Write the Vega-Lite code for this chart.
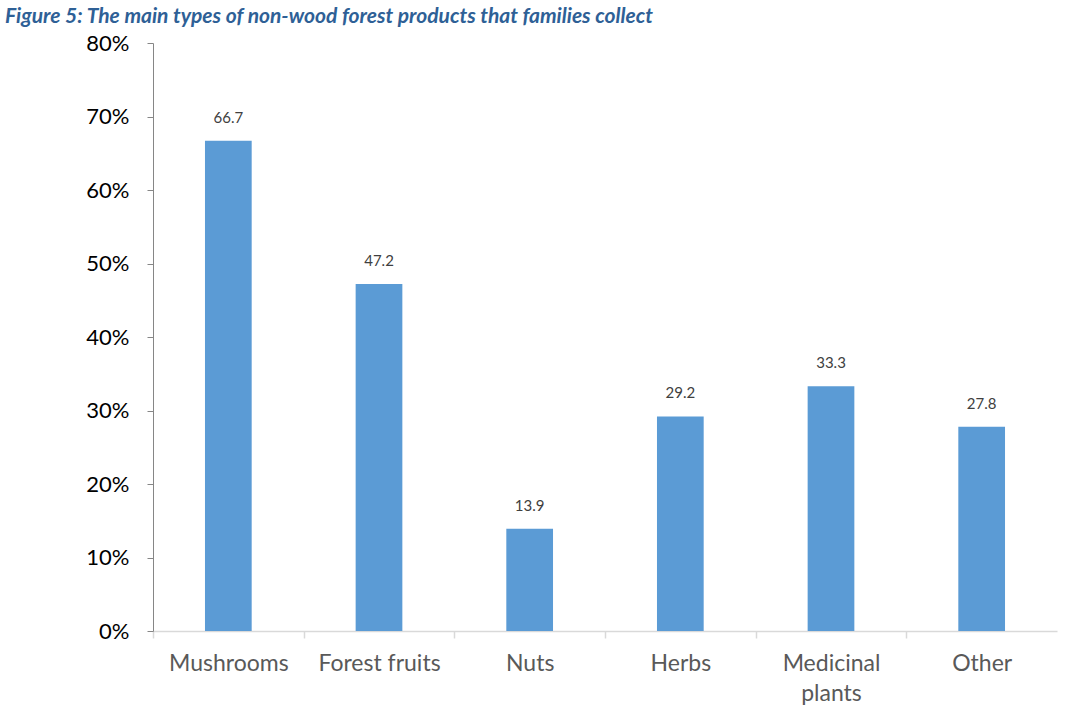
{
  "$schema": "https://vega.github.io/schema/vega-lite/v6.json",
  "width": 904,
  "height": 588,
  "autosize": {"type": "none"},
  "padding": {"left": 153, "top": 43, "right": 18, "bottom": 91},
  "background": "white",
  "title": {
    "text": "Figure 5: The main types of non-wood forest products that families collect",
    "anchor": "start",
    "frame": "group",
    "orient": "top",
    "baseline": "bottom",
    "offset": -16,
    "dx": -148,
    "font": "Lato",
    "fontSize": 21,
    "fontStyle": "italic",
    "fontWeight": "bold",
    "color": "#2E6096"
  },
  "data": {
    "values": [
      {"category": "Mushrooms", "value": 66.7},
      {"category": "Forest fruits", "value": 47.2},
      {"category": "Nuts", "value": 13.9},
      {"category": "Herbs", "value": 29.2},
      {"category": "Medicinal plants", "value": 33.3},
      {"category": "Other", "value": 27.8}
    ]
  },
  "encoding": {
    "x": {
      "field": "category",
      "type": "nominal",
      "sort": null,
      "scale": {"paddingInner": 0.69, "paddingOuter": 0.345},
      "axis": {
        "title": null,
        "labelAngle": 0,
        "labelFont": "Lato",
        "labelFontSize": 23,
        "labelColor": "#595959",
        "labelPadding": 14,
        "labelExpr": "datum.value == 'Medicinal plants' ? ['Medicinal', 'plants'] : datum.value",
        "labelLineHeight": 30,
        "tickOffset": -75.33,
        "labelOffset": 75.33,
        "domainColor": "#D9D9D9",
        "domainWidth": 1.5,
        "tickColor": "#D9D9D9",
        "tickWidth": 1.5,
        "tickSize": 7,
        "grid": false
      }
    },
    "y": {
      "field": "value",
      "type": "quantitative",
      "scale": {"domain": [0, 80], "nice": false},
      "axis": {
        "title": null,
        "values": [0, 10, 20, 30, 40, 50, 60, 70, 80],
        "labelExpr": "datum.value + '%'",
        "labelFont": "Lato",
        "labelFontSize": 22,
        "labelColor": "#000000",
        "labelPadding": 18,
        "domainColor": "#868686",
        "tickColor": "#868686",
        "tickSize": 6,
        "grid": false
      }
    }
  },
  "layer": [
    {"mark": {"type": "bar", "color": "#5B9BD5"}},
    {
      "mark": {
        "type": "text",
        "baseline": "bottom",
        "dy": -15,
        "font": "Lato",
        "fontSize": 15,
        "color": "#404040"
      },
      "encoding": {
        "text": {"field": "value", "type": "quantitative", "format": ".1f"}
      }
    }
  ],
  "config": {"view": {"stroke": null}}
}
